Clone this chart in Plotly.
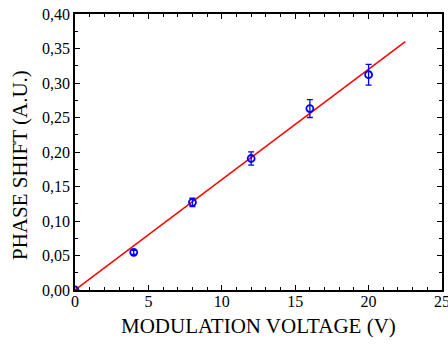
import plotly.graph_objects as go

voltage = [0, 4, 8, 12, 16, 20]
phase_shift = [0.0, 0.0546, 0.127, 0.1906, 0.263, 0.312]
phase_err = [0.0, 0.003, 0.006, 0.0097, 0.013, 0.015]

fit_x = [0, 22.5]
fit_y = [0.0, 0.36]

x_ticks = [0, 5, 10, 15, 20, 25]
y_ticks = [0.0, 0.05, 0.10, 0.15, 0.20, 0.25, 0.30, 0.35, 0.40]

FONT = "Liberation Serif, Times New Roman, serif"

fig = go.Figure()
fig.add_trace(go.Scatter(
    x=fit_x, y=fit_y, mode="lines",
    line=dict(color="#ff0000", width=1.5),
    showlegend=False, hoverinfo="skip"))
fig.add_trace(go.Scatter(
    x=voltage, y=phase_shift, mode="markers",
    marker=dict(symbol="circle-open", size=7, color="#0000ff",
                line=dict(width=1.8, color="#0000ff")),
    error_y=dict(type="data", array=phase_err, visible=True,
                 color="#0000ff", thickness=1.3, width=3),
    showlegend=False))

axis_common = dict(
    showgrid=False, zeroline=False, showline=True, linecolor="black",
    linewidth=1.5, mirror="ticks", ticks="inside", ticklen=5,
    tickwidth=1.2, tickcolor="black", automargin=False,
    ticklabeloverflow="allow",
    tickfont=dict(family=FONT, size=16, color="black"),
)

fig.update_xaxes(
    range=[0, 25], tickvals=x_ticks, ticktext=[str(v) for v in x_ticks],
    ticklabelstandoff=-4,
    minor=dict(ticks="inside", ticklen=3, dtick=1, tickwidth=1.2, tickcolor="black"),
    **axis_common)
fig.update_yaxes(
    range=[0, 0.40], tickvals=y_ticks, tickformat=".2f",
    minor=dict(ticks="inside", ticklen=3, dtick=0.025, tickwidth=1.2, tickcolor="black"),
    **axis_common)

fig.add_annotation(
    text="MODULATION VOLTAGE (V)", xref="paper", yref="paper",
    x=0.5, y=0, yshift=-36, yanchor="middle", showarrow=False,
    font=dict(family=FONT, size=21, color="black"))
fig.add_annotation(
    text="PHASE SHIFT (A.U.)", xref="paper", yref="paper",
    x=0, xshift=-55, y=0.5, yshift=-13, textangle=-90, xanchor="center",
    yanchor="middle", showarrow=False,
    font=dict(family=FONT, size=21, color="black"))

fig.update_layout(
    width=448, height=347,
    margin=dict(l=75, r=6, t=14, b=57, autoexpand=False),
    paper_bgcolor="white", plot_bgcolor="white",
    separators=",.",
    font=dict(family=FONT, color="black"),
)

fig.write_html("out.html", config={"displayModeBar": False},
               post_script="document.body.style.margin='0';")
